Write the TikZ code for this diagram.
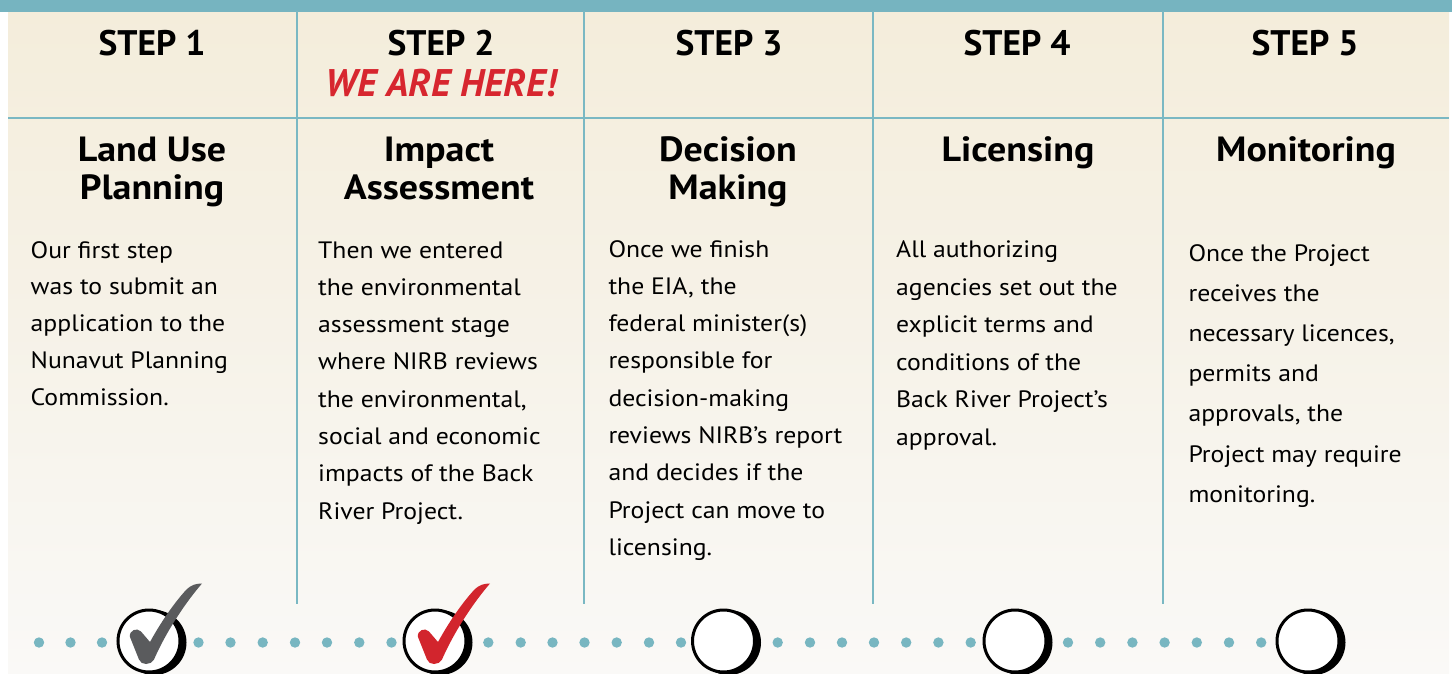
\documentclass[tikz,border=0pt]{standalone}
\usepackage{fontspec}
\setmainfont{PT Sans}
\newfontfamily\widefont{PT Sans}[FakeStretch=1.085]
\definecolor{tealband}{HTML}{76B4C0}
\definecolor{tealline}{HTML}{7AB8C3}
\definecolor{dotteal}{HTML}{78B6C1}
\definecolor{beigetop}{HTML}{F4EDDB}
\definecolor{beigemid}{HTML}{F6F2E8}
\definecolor{paleend}{HTML}{FAF9F7}
\definecolor{checkgray}{HTML}{5A5B5D}
\definecolor{checkred}{HTML}{D2252D}
\definecolor{herered}{HTML}{D7262F}
\tikzset{
  stephead/.style={inner sep=0pt, anchor=base, font=\fontsize{35.5}{40}\selectfont\bfseries},
  herelabel/.style={inner sep=0pt, anchor=base, text=herered, font=\fontsize{38.5}{40}\selectfont\bfseries\itshape},
  titlebox/.style={inner sep=0pt, anchor=base, font=\widefont\fontsize{35}{40}\selectfont\bfseries},
  bodytext/.style={inner sep=0pt, anchor=base west, font=\widefont\fontsize{23.7}{30}\selectfont},
  divider/.style={draw=tealline, line width=2.6pt},
  stepcircle/.style={circle, draw=black, line width=3pt, fill=white, minimum size=62pt, inner sep=0pt},
  dotmark/.style={fill=dotteal},
}
\newcommand\bodycolumn[5]{% x, first baseline, spacing, name, lines
  \foreach \ln [count=\i] in {#5} {
    \node[bodytext] (#4-\i) at (#1, {#2+(\i-1)*#3}) {\ln};
  }
}
\begin{document}
\begin{tikzpicture}[x=1pt,y=-1pt]
\useasboundingbox (0,0) rectangle (1452,673);
\fill[white] (0,0) rectangle (1452,673);
% background
\shade[top color=beigetop, bottom color=beigemid] (8,11) rectangle (1449,330);
\shade[top color=beigemid, bottom color=paleend] (8,330) rectangle (1449,673);
\fill[tealband] (0,0) rectangle (1452,11.5);
% grid lines
\draw[divider] (8,118) -- (1449,118);
\foreach \x in {297,584,873,1163} {
  \draw[divider] (\x,11) -- (\x,604);
}
% step headers
\node[stephead] (s1) at (152,55) {STEP 1};
\node[stephead] (s2) at (441,55) {STEP 2};
\node[herelabel] (here) at (441,96) {WE ARE HERE!};
\node[stephead] (s3) at (729,55) {STEP 3};
\node[stephead] (s4) at (1017,55) {STEP 4};
\node[stephead] (s5) at (1305,55) {STEP 5};
% titles
\node[titlebox] (t1a) at (152,161) {Land Use};
\node[titlebox] (t1b) at (152,199.5) {Planning};
\node[titlebox] (t2a) at (439,161) {Impact};
\node[titlebox] (t2b) at (439,199.5) {Assessment};
\node[titlebox] (t3a) at (728,161) {Decision};
\node[titlebox] (t3b) at (728,199.5) {Making};
\node[titlebox] (t4a) at (1018,161) {Licensing};
\node[titlebox] (t5a) at (1306,161) {Monitoring};
% body text
\bodycolumn{30.5}{258}{36.9}{b1}{Our first step,was to submit an,application to the,Nunavut Planning,Commission.}
\bodycolumn{318}{258}{37.3}{b2}{Then we entered,the environmental,assessment stage,where NIRB reviews,{the environmental,},social and economic,impacts of the Back,River Project.}
\bodycolumn{608.3}{257}{37.3}{b3}{Once we finish,{the EIA, the},federal minister(s),responsible for,decision-making,reviews NIRB’s report,and decides if the,Project can move to,licensing.}
\bodycolumn{896}{257.5}{37.5}{b4}{All authorizing,agencies set out the,explicit terms and,conditions of the,Back River Project’s,approval.}
\bodycolumn{1188.3}{261}{40.2}{b5}{Once the Project,receives the,{necessary licences,},permits and,{approvals, the},Project may require,monitoring.}
% dots
\foreach \x in {39,70.5,102,198.5,230.5,262.7,295,327,359.3,391.5,488.3,520.7,552.5,584.5,616.7,649,681,777.7,810,842,874,906.2,938.4,970.7,1068,1100.2,1132.4,1164.6,1196.8,1229,1261.2} {
  \fill[dotmark] (\x,642.5) circle[radius=5.2];
}
% circles with crescent shadow
\foreach \cx [count=\k] in {149,435,723.5,1015,1308} {
  \fill[black] (\cx+5,642.5) circle[radius=32.5];
  \node[stepcircle] (c\k) at (\cx,641) {};
}
% check marks
\foreach \dx/\col in {0/checkgray,288/checkred} {
  \begin{scope}[shift={(\dx,0)}]
    \fill[\col] (202,583.5) .. controls (186,602) and (167,630) .. (154,659.5)
      .. controls (151,665.5) and (141,665.5) .. (139,659.5) -- (130,637)
      .. controls (128.7,630.5) and (137,627) .. (141,631.5) -- (150,642)
      .. controls (161,622) and (174,603) .. (186.5,589.5)
      .. controls (191,585) and (196,583.5) .. (202,583.5) -- cycle;
  \end{scope}
}
\end{tikzpicture}
\end{document}
